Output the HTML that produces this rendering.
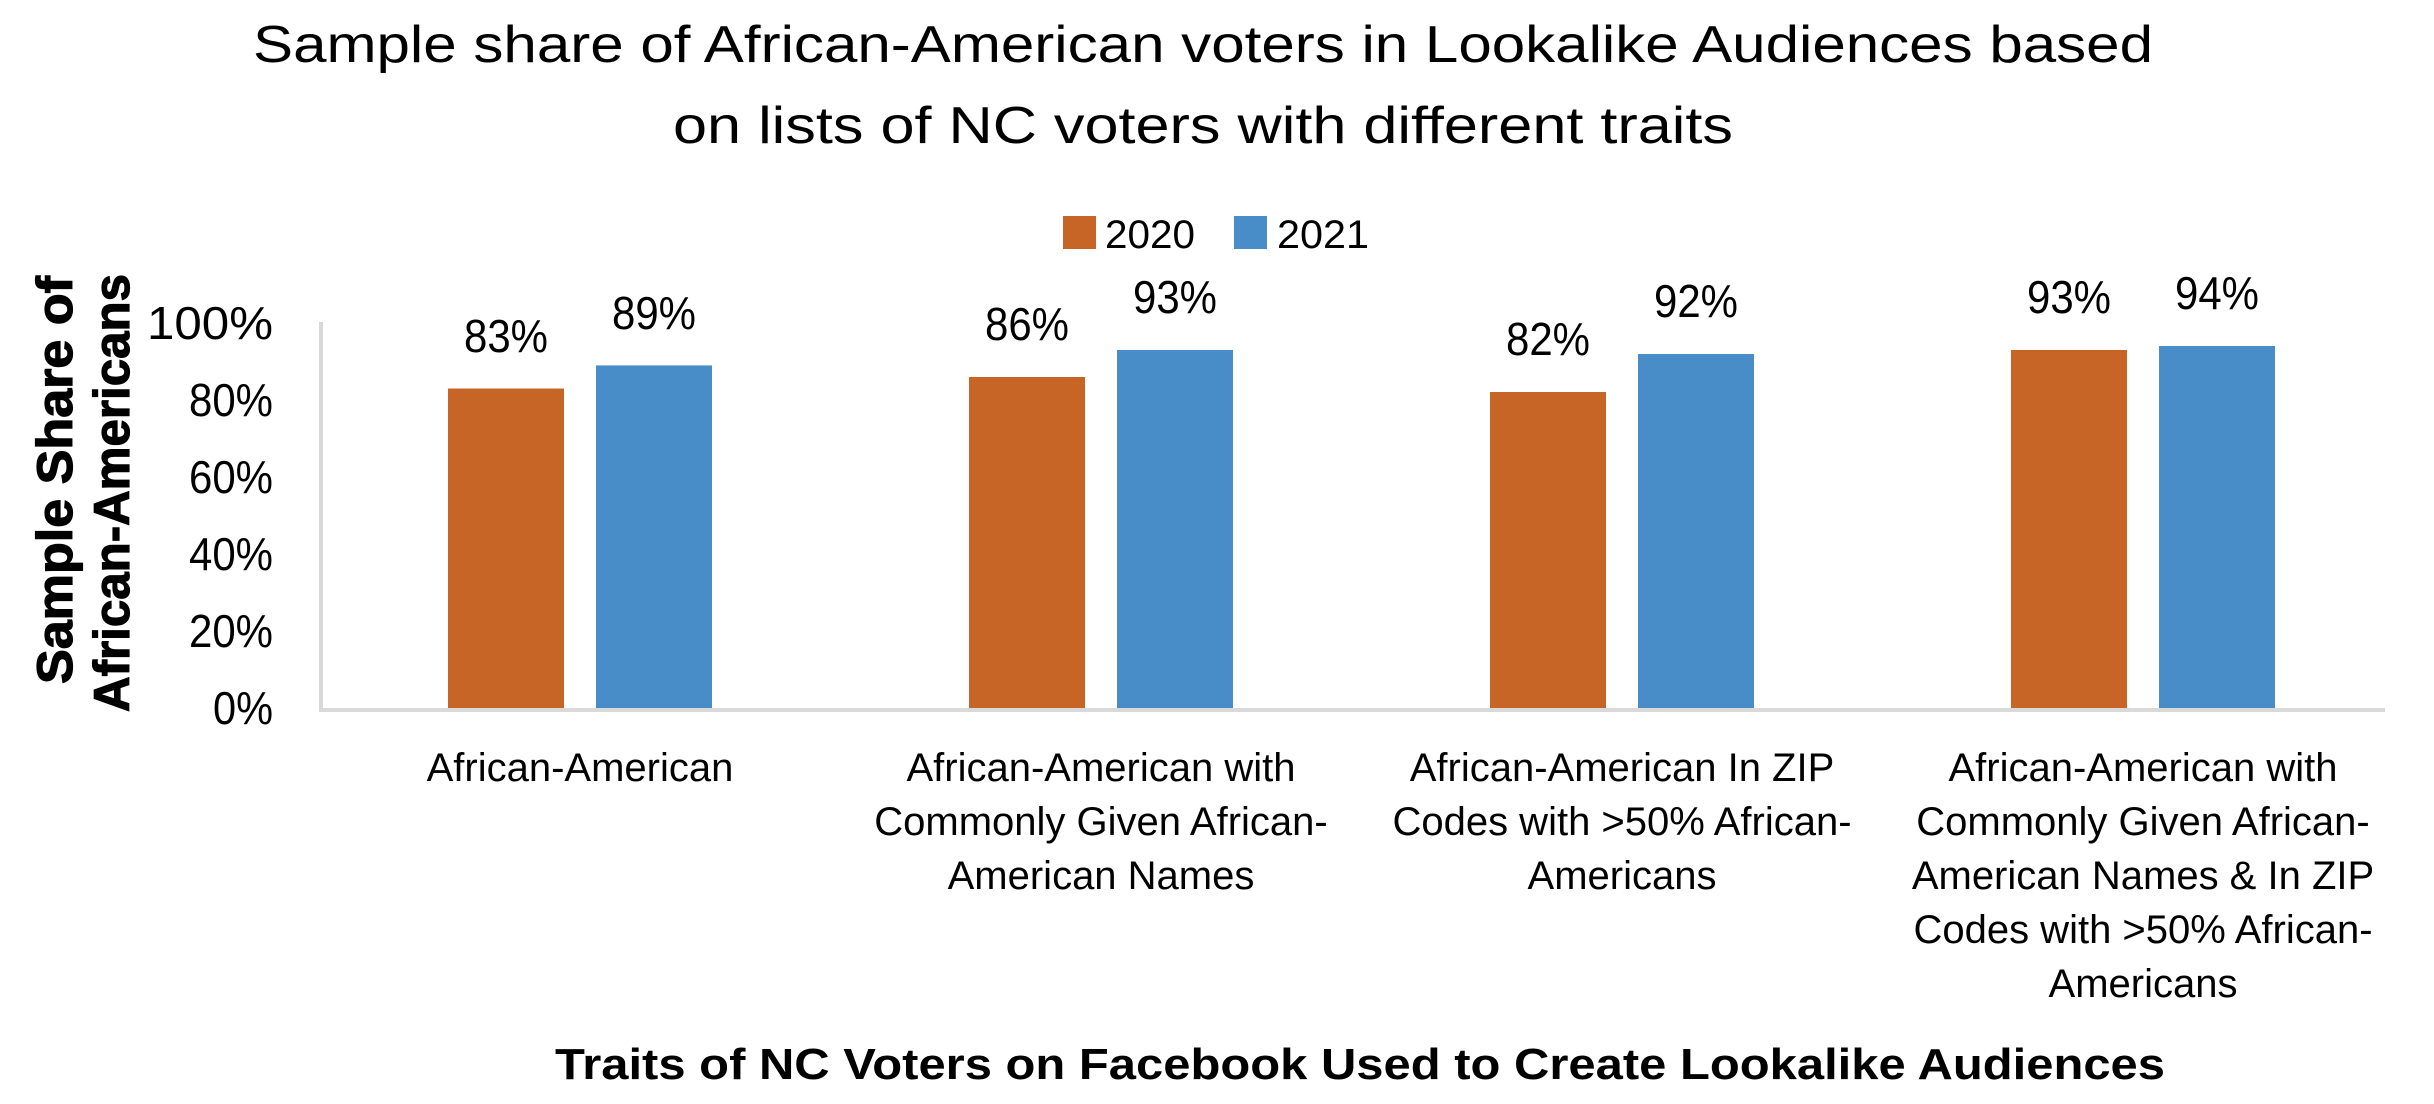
<!DOCTYPE html>
<html><head><meta charset="utf-8"><style>
html,body{margin:0;padding:0;background:#fff;}
svg{display:block;font-family:"Liberation Sans",sans-serif;}
</style></head><body>
<svg width="2434" height="1104" viewBox="0 0 2434 1104" xmlns="http://www.w3.org/2000/svg">
<rect width="2434" height="1104" fill="#fff"/>
<g font-size="52" fill="#000" text-anchor="middle">
<text x="1203" y="62" textLength="1900" lengthAdjust="spacingAndGlyphs">Sample share of African-American voters in Lookalike Audiences based</text>
<text x="1203" y="143" textLength="1060" lengthAdjust="spacingAndGlyphs">on lists of NC voters with different traits</text>
</g>
<rect x="1063" y="216" width="33" height="33" fill="#C66526"/>
<text x="1105" y="248" font-size="40" textLength="90" lengthAdjust="spacingAndGlyphs">2020</text>
<rect x="1234" y="216" width="33" height="33" fill="#498DC8"/>
<text x="1277" y="248" font-size="40" textLength="92" lengthAdjust="spacingAndGlyphs">2021</text>
<g font-size="46" text-anchor="end">
<text x="273" y="339" textLength="126" lengthAdjust="spacingAndGlyphs">100%</text>
<text x="273" y="416" textLength="84" lengthAdjust="spacingAndGlyphs">80%</text>
<text x="273" y="493" textLength="84" lengthAdjust="spacingAndGlyphs">60%</text>
<text x="273" y="570" textLength="84" lengthAdjust="spacingAndGlyphs">40%</text>
<text x="273" y="647" textLength="84" lengthAdjust="spacingAndGlyphs">20%</text>
<text x="273" y="724" textLength="60" lengthAdjust="spacingAndGlyphs">0%</text>
</g>
<g font-weight="900" font-size="50" text-anchor="middle" stroke="#000" stroke-width="1.2">
<text transform="translate(72,480) rotate(-90)" textLength="408" lengthAdjust="spacingAndGlyphs">Sample Share of</text>
<text transform="translate(129,493) rotate(-90)" textLength="438" lengthAdjust="spacingAndGlyphs">African-Americans</text>
</g>
<line x1="321" y1="322" x2="321" y2="710" stroke="#d9d9d9" stroke-width="4"/>
<line x1="319" y1="710" x2="2385" y2="710" stroke="#d9d9d9" stroke-width="4"/>
<g>
<rect x="448" y="388.5" width="116" height="319.5" fill="#C66526"/>
<rect x="596" y="365.4" width="116" height="342.6" fill="#498DC8"/>
<rect x="969" y="377" width="116" height="331" fill="#C66526"/>
<rect x="1117" y="350" width="116" height="358" fill="#498DC8"/>
<rect x="1490" y="392" width="116" height="316" fill="#C66526"/>
<rect x="1638" y="354" width="116" height="354" fill="#498DC8"/>
<rect x="2011" y="350" width="116" height="358" fill="#C66526"/>
<rect x="2159" y="346" width="116" height="362" fill="#498DC8"/>
</g>
<g font-size="46" text-anchor="middle">
<text x="506" y="352" textLength="84" lengthAdjust="spacingAndGlyphs">83%</text>
<text x="654" y="329" textLength="84" lengthAdjust="spacingAndGlyphs">89%</text>
<text x="1027" y="340" textLength="84" lengthAdjust="spacingAndGlyphs">86%</text>
<text x="1175" y="313" textLength="84" lengthAdjust="spacingAndGlyphs">93%</text>
<text x="1548" y="355" textLength="84" lengthAdjust="spacingAndGlyphs">82%</text>
<text x="1696" y="317" textLength="84" lengthAdjust="spacingAndGlyphs">92%</text>
<text x="2069" y="313" textLength="84" lengthAdjust="spacingAndGlyphs">93%</text>
<text x="2217" y="309" textLength="84" lengthAdjust="spacingAndGlyphs">94%</text>
</g>
<g font-size="40" text-anchor="middle">
<text x="580" y="781">African-American</text>
<text x="1101" y="781">African-American with</text>
<text x="1101" y="835">Commonly Given African-</text>
<text x="1101" y="889">American Names</text>
<text x="1622" y="781">African-American In ZIP</text>
<text x="1622" y="835">Codes with &gt;50% African-</text>
<text x="1622" y="889">Americans</text>
<text x="2143" y="781">African-American with</text>
<text x="2143" y="835">Commonly Given African-</text>
<text x="2143" y="889">American Names &amp; In ZIP</text>
<text x="2143" y="943">Codes with &gt;50% African-</text>
<text x="2143" y="997">Americans</text>
</g>
<text x="1360" y="1079" font-size="44" font-weight="bold" text-anchor="middle" textLength="1610" lengthAdjust="spacingAndGlyphs">Traits of NC Voters on Facebook Used to Create Lookalike Audiences</text>
</svg>
</body></html>
